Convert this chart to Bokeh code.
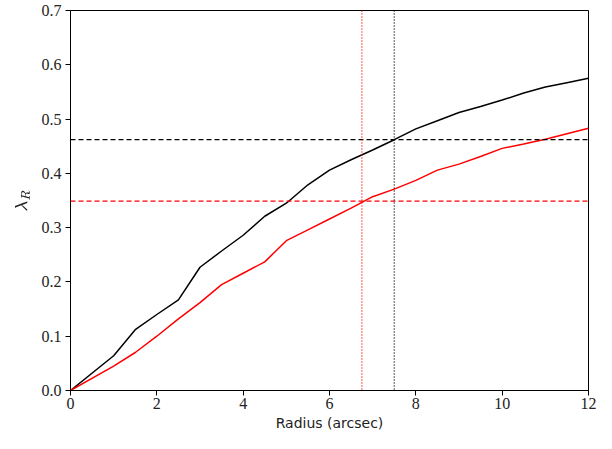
from bokeh.plotting import figure
from bokeh.models import Range1d, FixedTicker, Span
from bokeh.embed import file_html
from bokeh.resources import INLINE

# ---- data ----
radius = [0, 1, 1.5, 2, 2.5, 3, 3.5, 4, 4.5, 5, 5.5, 6, 6.5, 7, 7.5, 8,
          8.5, 9, 9.5, 10, 10.5, 11, 11.5, 12]
lambda_black = [0, 0.064, 0.112, 0.140, 0.167, 0.227, 0.257, 0.286, 0.321,
                0.345, 0.379, 0.406, 0.425, 0.443, 0.462, 0.482, 0.497,
                0.512, 0.523, 0.535, 0.548, 0.559, 0.567, 0.575]
lambda_red = [0, 0.045, 0.070, 0.100, 0.132, 0.162, 0.195, 0.216, 0.237,
              0.276, 0.296, 0.316, 0.336, 0.357, 0.371, 0.387, 0.406,
              0.417, 0.431, 0.446, 0.454, 0.463, 0.473, 0.483]
hline_black = 0.462
hline_red = 0.349
vline_black = 7.5
vline_red = 6.75
x_ticks = [0, 2, 4, 6, 8, 10, 12]
y_ticks = [0.0, 0.1, 0.2, 0.3, 0.4, 0.5, 0.6, 0.7]
y_tick_labels = ["0.0", "0.1", "0.2", "0.3", "0.4", "0.5", "0.6", "0.7"]

p = figure(width=596, height=433, output_backend="svg", toolbar_location=None,
           x_range=Range1d(0, 12), y_range=Range1d(0, 0.7),
           min_border_left=70, min_border_right=8, min_border_top=10,
           min_border_bottom=37)

p.grid.visible = False
p.outline_line_color = "black"
p.outline_line_width = 1
p.background_fill_color = "white"
p.border_fill_color = "white"

p.line(radius, lambda_black, line_color="black", line_width=1.5)
p.line(radius, lambda_red, line_color="red", line_width=1.5)

p.add_layout(Span(location=hline_black, dimension="width", line_color="black",
                  line_dash="5 3", line_width=1.3))
p.add_layout(Span(location=hline_red, dimension="width", line_color="red",
                  line_dash="5 3", line_width=1.3))
p.add_layout(Span(location=vline_black, dimension="height", line_color="black",
                  line_dash="1 2", line_width=1.3))
p.add_layout(Span(location=vline_red, dimension="height", line_color="red",
                  line_dash="1 2", line_width=1.3))

p.xaxis.ticker = FixedTicker(ticks=x_ticks)
p.yaxis.ticker = FixedTicker(ticks=y_ticks)
p.yaxis.major_label_overrides = {t: l for t, l in zip(y_ticks, y_tick_labels)}

for ax in (p.xaxis, p.yaxis):
    ax.major_label_text_font = "Liberation Serif"
    ax.major_label_text_font_size = "16px"
    ax.major_label_text_color = "#222222"
    ax.axis_label_text_font = "DejaVu Sans"
    ax.axis_label_text_font_size = "14px"
    ax.axis_label_text_font_style = "normal"
    ax.axis_label_text_color = "#222222"
    ax.major_tick_out = 5
    ax.major_tick_in = 0
    ax.minor_tick_out = 0
    ax.minor_tick_in = 0
    ax.axis_line_color = "black"
    ax.major_tick_line_color = "black"

p.xaxis.axis_label = "Radius (arcsec)"
p.yaxis.axis_label = r"$$\lambda_R$$"
p.xaxis.major_label_standoff = 2
p.xaxis.axis_label_standoff = 3
p.yaxis.major_label_standoff = 4
p.yaxis.axis_label_standoff = 8

open("out.html", "w").write(file_html(p, INLINE))
